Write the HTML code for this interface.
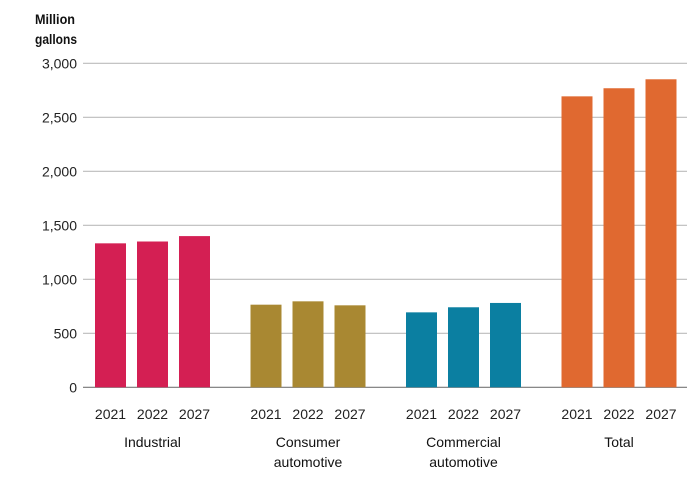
<!DOCTYPE html>
<html><head><meta charset="utf-8"><style>
html,body{margin:0;padding:0;background:#fff;}
svg{display:block;font-family:"Liberation Sans",Arial,sans-serif;}
</style></head><body>
<svg id="chart" width="700" height="486">
<text x="35" y="24" font-size="14" font-weight="bold" fill="#111" textLength="40" lengthAdjust="spacingAndGlyphs">Million</text>
<text x="35" y="44" font-size="14" font-weight="bold" fill="#111" textLength="42" lengthAdjust="spacingAndGlyphs">gallons</text>
<g id="grid"></g><g id="bars"></g><g id="labels"></g>
</svg>
<script>
const groups=[["Industrial"],["Consumer","automotive"],["Commercial","automotive"],["Total"]];
const years=["2021","2022","2027"];
const industrial=[1333,1350,1400];
const consumer=[765,796,759];
const commercial=[694,741,781];
const total=[2694,2769,2852];
const yTicks=[0,500,1000,1500,2000,2500,3000];
const yTickLabels=["0","500","1,000","1,500","2,000","2,500","3,000"];
const series=[industrial,consumer,commercial,total];
const colors=["#d41f53","#a98832","#0b7fa1","#e06930"];
const NS="http://www.w3.org/2000/svg";
const y0=387.3,k=324/3000;
function y(v){return y0-v*k;}
function groupX(g){return 95+g*155.5;}
function barX(g,i){return groupX(g)+i*42;}
const bw=31;
function mk(tag,attrs,parent){const e=document.createElementNS(NS,tag);for(const a in attrs)e.setAttribute(a,attrs[a]);parent.appendChild(e);return e;}
const grid=document.getElementById('grid'),bars=document.getElementById('bars'),labels=document.getElementById('labels');
yTicks.forEach((t,i)=>{
  const l=mk('line',{x1:83,x2:687,y1:y(t),y2:y(t),stroke:t===0?'#777':'#bbb','stroke-width':1.2},grid);
  
  
  const tx=mk('text',{x:77,y:y(t)+5,'font-size':14,'text-anchor':'end',fill:'#222'},grid);
  tx.textContent=yTickLabels[i];
  
  
});
series.forEach((s,g)=>{
  s.forEach((v,i)=>{
    const r=mk('rect',{x:barX(g,i),y:y(v),width:bw,height:y0-y(v),fill:colors[g]},bars);
    
    
    const t=mk('text',{x:barX(g,i)+bw/2,y:419,'font-size':14,'text-anchor':'middle',fill:'#222'},labels);
    t.textContent=years[i];
    
    
  });
  groups[g].forEach((line,j)=>{
    const t=mk('text',{x:barX(g,1)+bw/2,y:447+j*20,'font-size':14,'text-anchor':'middle',fill:'#111'},labels);
    t.textContent=line;
    
    
  });
});
</script>
</body></html>
